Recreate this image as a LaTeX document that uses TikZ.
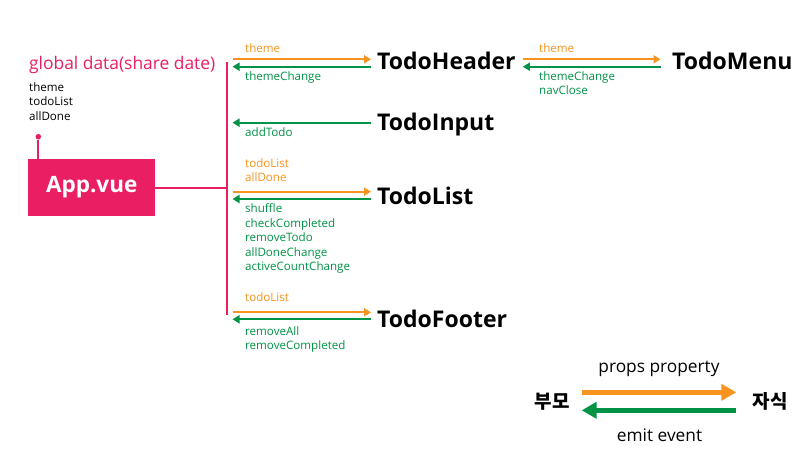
\documentclass[tikz,border=0pt]{standalone}
\usepackage{fontspec}
\setmainfont{Open Sans}
\newfontfamily\krfont{Noto Sans CJK KR}
\usetikzlibrary{arrows.meta,calc}
\definecolor{vuepink}{RGB}{233,30,99}
\definecolor{propsorange}{RGB}{247,147,30}
\definecolor{emitgreen}{RGB}{0,146,69}
\tikzstyle{comp} = [inner sep=0pt,anchor=west,font=\fontsize{23}{27}\selectfont\bfseries]
\tikzstyle{wire} = [draw=vuepink,line width=2pt]
\tikzstyle{props} = [draw=propsorange,line width=2pt,-{Triangle[length=7pt,width=8pt]}]
\tikzstyle{emit} = [draw=emitgreen,line width=2pt,-{Triangle[length=7pt,width=8pt]}]
\tikzstyle{plabel} = [inner sep=0pt,anchor=north west,align=left,text=propsorange,
    font=\fontsize{11.6}{14.4}\selectfont]
\tikzstyle{elabel} = [plabel,text=emitgreen]
\tikzstyle{legend} = [inner sep=0pt,font=\krfont\fontsize{19}{22}\selectfont\bfseries]
\newcommand{\propslink}[3]{
    \draw[props] ($(#1)+(0,#3)$) -- ($(#2)+(0,#3)$);
}
\newcommand{\emitlink}[3]{
    \draw[emit] ($(#2)+(0,#3)$) -- ($(#1)+(0,#3)$);
}
\begin{document}
\begin{tikzpicture}[x=1pt,y=-1pt]
	\useasboundingbox (0,0) rectangle (812,463);
	
	\node(shared) [inner sep=0pt,anchor=west,text=vuepink,font=\fontsize{17.4}{20}\selectfont] at (29,65) {global data(share date)};
	\node(sharedlist) [plabel,text=black] at (29,82.5) {theme\\todoList\\allDone};
	
	\node(app) [fill=vuepink,text=white,minimum width=126.7pt,minimum height=56.7pt,inner sep=0pt,
	    font=\fontsize{22.5}{26}\selectfont\bfseries] at (91.7,187.6) {App.vue};
	\node(dot) [circle,fill=vuepink,inner sep=0pt,minimum size=5.5pt] at (38.3,136.7) {};
	\draw[wire] (dot) -- (dot |- app.north);
	
	\coordinate(bus) at (227,62);
	\coordinate(busend) at (227,315);
	\draw[wire] (bus) -- (busend);
	\draw[wire] (app.east) -- (app.east -| bus);
	
	\node(header) [comp] at (377,61) {TodoHeader};
	\node(menu) [comp] at (672,61) {TodoMenu};
	\node(input) [comp] at (377,124.3) {TodoInput};
	\node(list) [comp] at (377,196) {TodoList};
	\node(footer) [comp] at (377,318.7) {TodoFooter};
	
	\foreach \c in {header,input,list,footer}{
		\coordinate(\c-bus) at ($(\c.west -| bus)+(5.5,0)$);
		\coordinate(\c-in) at ($(\c.west)+(-6,0)$);
	}
	\coordinate(header-out) at ($(header.east)+(7,0)$);
	\coordinate(menu-in) at ($(menu.west)+(-11.5,0)$);
	
	\propslink{header-bus}{header-in}{-1.7}
	\emitlink{header-bus}{header-in}{5.7}
	\propslink{header-out}{menu-in}{-1.7}
	\emitlink{header-out}{menu-in}{5.7}
	\emitlink{input-bus}{input-in}{-1.6}
	\propslink{list-bus}{list-in}{-4.3}
	\emitlink{list-bus}{list-in}{3}
	\propslink{footer-bus}{footer-in}{-6.4}
	\emitlink{footer-bus}{footer-in}{0.6}
	
	\node[plabel] at (245,43.5) {theme};
	\node[elabel] at (245,71.5) {themeChange};
	\node[plabel] at (539,43.5) {theme};
	\node[elabel] at (539,71.5) {themeChange\\navClose};
	\node[elabel] at (245,127) {addTodo};
	\node[plabel] at (245,158.5) {todoList\\allDone};
	\node[elabel] at (245,203.8) {shuffle\\checkCompleted\\removeTodo\\allDoneChange\\activeCountChange};
	\node[plabel] at (245,292.8) {todoList};
	\node[elabel] at (245,326.2) {removeAll\\removeCompleted};
	
	\node(parent) [legend] at (552,401.5) {부모};
	\node(child) [legend] at (770,401.5) {자식};
	\draw[draw=propsorange,line width=4.5pt,-{Triangle[length=15pt,width=16pt]}]
	    ($(parent.east)+(12,-9.2)$) -- ($(child.west)+(-16,-9.2)$);
	\draw[draw=emitgreen,line width=4.5pt,-{Triangle[length=15pt,width=16pt]}]
	    ($(child.west)+(-16,8.8)$) -- ($(parent.east)+(12,8.8)$);
	\node[inner sep=0pt,font=\fontsize{17.3}{20}\selectfont] at (659,369) {props property};
	\node[inner sep=0pt,font=\fontsize{17.3}{20}\selectfont] at (659.5,435) {emit event};
\end{tikzpicture}
\end{document}
